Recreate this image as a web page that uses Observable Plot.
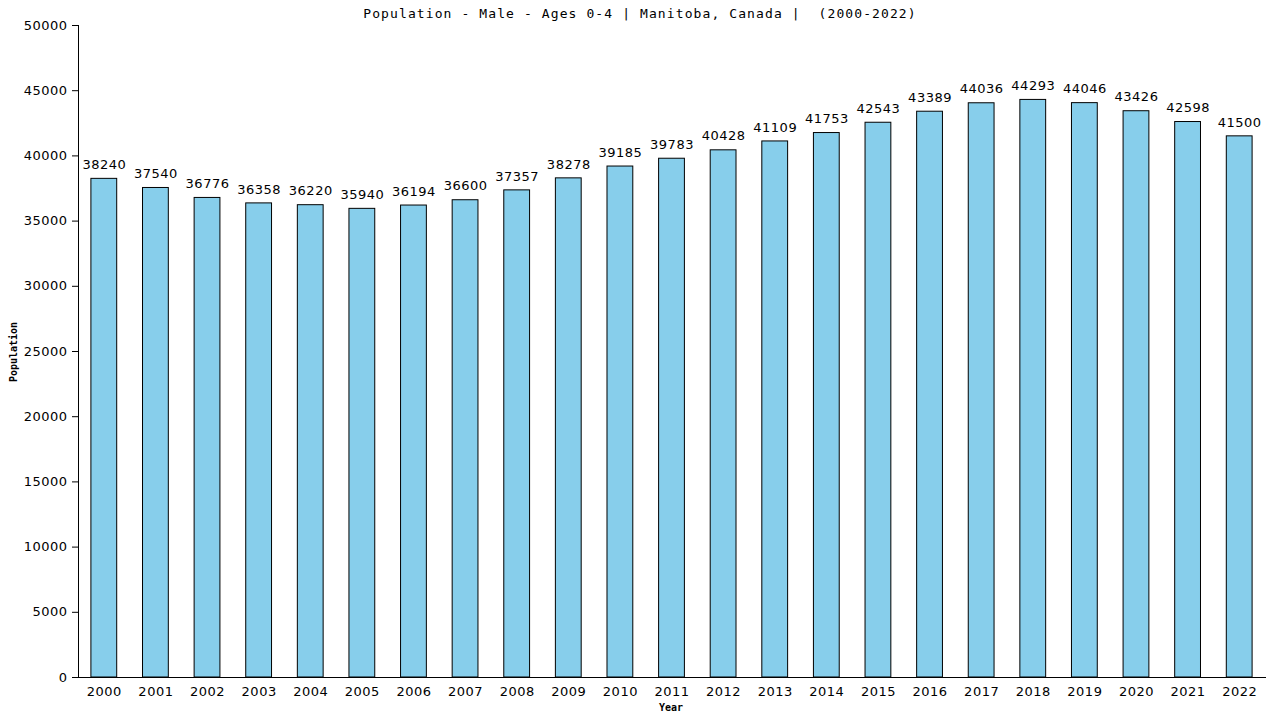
<!DOCTYPE html>
<html>
<head>
<meta charset="utf-8">
<script src="https://cdn.jsdelivr.net/npm/d3@7"></script>
<script src="https://cdn.jsdelivr.net/npm/@observablehq/plot@0.6"></script>
<style>
  html, body { margin: 0; padding: 0; background: #fff; }
  #wrap { position: relative; width: 1280px; height: 720px; }
  #title { position: absolute; left: 0; top: 6px; width: 1280px; text-align: center;
           font-family: "DejaVu Sans Mono", monospace; font-size: 13px; letter-spacing: 1.1px; color: #000; white-space: pre; }
  #ylab { position: absolute; left: 13px; top: 352px; transform: translate(-50%, -50%) rotate(-90deg);
          font-family: "DejaVu Sans Mono", monospace; font-size: 10px; font-weight: bold; white-space: nowrap; }
  #xlab { position: absolute; left: 671px; top: 702px; transform: translateX(-50%);
          font-family: "DejaVu Sans Mono", monospace; font-size: 10px; font-weight: bold; }
</style>
</head>
<body>
<div id="wrap">
  <div id="chart"></div>
  <div id="title">Population - Male - Ages 0-4 | Manitoba, Canada |  (2000-2022)</div>
  <div id="ylab">Population</div>
  <div id="xlab">Year</div>
</div>
<script>
const years = ["2000","2001","2002","2003","2004","2005","2006","2007","2008","2009","2010","2011","2012","2013","2014","2015","2016","2017","2018","2019","2020","2021","2022"];
const population = [38240,37540,36776,36358,36220,35940,36194,36600,37357,38278,39185,39783,40428,41109,41753,42543,43389,44036,44293,44046,43426,42598,41500];
const yTicks = [0,5000,10000,15000,20000,25000,30000,35000,40000,45000,50000];

const data = years.map((y, i) => ({year: y, value: population[i]}));

const chart = Plot.plot({
  width: 1280,
  height: 720,
  marginLeft: 78,
  marginRight: 15,
  marginTop: 25,
  marginBottom: 43,
  style: {fontFamily: "DejaVu Sans", fontSize: "13px", letterSpacing: "0.5px", color: "#000", background: "#fff"},
  x: {domain: years, paddingInner: 0.5, paddingOuter: 0.25, round: false, label: null},
  y: {domain: [0, 50000], label: null},
  marks: [
    Plot.barY(data, {x: "year", y: "value", fill: "#87CEEB", stroke: "#000", strokeWidth: 1}),
    Plot.text(data, {x: "year", y: "value", text: d => String(d.value), dy: -14, fontSize: 13, fill: "#000"}),
    Plot.axisY({ticks: yTicks, tickFormat: d => String(d), tickSize: 6, tickPadding: 5, fontSize: 13, label: null}),
    Plot.axisX({tickSize: 0, tickPadding: 9, fontSize: 13, label: null}),
    Plot.frame({anchor: "left", stroke: "#000"}),
    Plot.frame({anchor: "bottom", stroke: "#000"})
  ]
});
document.getElementById("chart").appendChild(chart);
</script>
</body>
</html>
